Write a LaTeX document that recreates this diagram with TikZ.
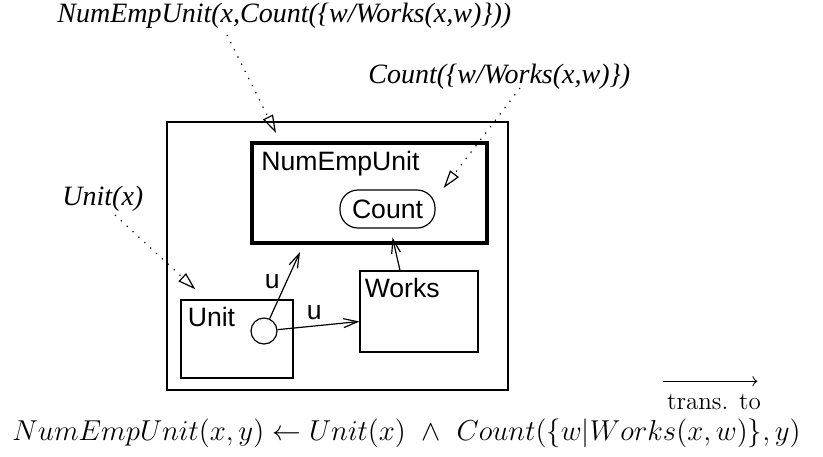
\documentclass[tikz,border=0pt]{standalone}
\usepackage{fontspec}
\newfontfamily\helv{Liberation Sans}
\newfontfamily\tims{Liberation Serif}
\usetikzlibrary{arrows.meta}
\tikzstyle{box} = [rectangle, draw, line width=0.6pt, inner sep=0pt]
\tikzstyle{thickbox} = [box, line width=2pt]
\tikzstyle{oval} = [box, rounded corners=9pt]
\tikzstyle{boxname} = [font=\helv\fontsize{13.3}{15}\selectfont, inner sep=0pt]
\tikzstyle{term} = [font=\tims\itshape\fontsize{14}{16}\selectfont, inner sep=0pt, anchor=base west]
\tikzstyle{line} = [draw, line width=0.6pt, -{Straight Barb[length=7pt,width=4.5pt]}]
\tikzstyle{refer} = [draw, line width=0.6pt, dash pattern=on 0.6pt off 3.4pt, -{Triangle[open,length=9pt,width=5.5pt,line width=0.6pt]}]

\begin{document}
\begin{tikzpicture}[x=0.5pt, y=-0.5pt]
	\useasboundingbox (0,0) rectangle (823,456);
	% Place nodes
	\node [box, minimum width=170.5pt, minimum height=134pt] (outer) at (337.5,256) {};
	\node [thickbox, minimum width=117.5pt, minimum height=50pt] (nbox) at (369.5,193) {};
	\node [boxname, anchor=base west] (nname) at ([xshift=5.5pt,yshift=-14.5pt]nbox.north west) {NumEmpUnit};
	\node [oval, boxname, minimum width=47.5pt, minimum height=19pt] (count) at (387.5,209) {Count};
	\node [box, minimum width=59pt, minimum height=40.5pt] (works) at (419,311.5) {};
	\node [boxname, anchor=base west] (wname) at ([xshift=2.5pt,yshift=-13.5pt]works.north west) {Works};
	\node [box, minimum width=56pt, minimum height=39pt] (unit) at (237,339) {};
	\node [boxname, anchor=base west] (uname) at ([xshift=3.5pt,yshift=-13.5pt]unit.north west) {Unit};
	\node [box, circle, minimum size=13pt] (circ) at (264,331) {};
	\coordinate (up) at (300,252);
	% terms
	\node [term] (ttop) at (57,22) {NumEmpUnit(x,Count(\{w/Works(x,w)\}))};
	\node [term] (tcount) at (368,83) {Count(\{w/Works(x,w)\})};
	\node [term] (tunit) at (62,205) {Unit(x)};
	% rule
	\node [anchor=base west, inner sep=0pt, font=\fontsize{15.6}{18}\selectfont] (rule) at (12,440)
		{$NumEmpUnit(x,y) \leftarrow Unit(x)\ \wedge\ Count(\{w|Works(x,w)\},y)$};
	\node [inner sep=0pt, anchor=base, font=\fontsize{12.5}{14}\selectfont] (trans) at (714,409) {trans. to};
	% Draw edges
	\path [line] (circ) -- node [boxname, pos=0.55, left=3pt] {u} (up);
	\path [line] (circ) -- node [boxname, pos=0.45, above=3pt] {u} ([yshift=-5pt]works.west);
	\path [line] ([xshift=-9.5pt]works.north) -- ([xshift=2.5pt,yshift=-4.5pt]count.south);
	\path [refer] ([xshift=85pt,yshift=-6.5pt]ttop.base west) -- ([xshift=-46.75pt,yshift=4pt]nbox.north);
	\path [refer] ([xshift=76pt,yshift=-2.5pt]tcount.base west) -- ([xshift=4pt,yshift=10.5pt]count.east);
	\path [refer] ([xshift=26.5pt,yshift=-5pt]tunit.base west) -- ([xshift=7.5pt,yshift=5pt]unit.north west);
	\draw [->] ([xshift=-2pt,yshift=6pt]trans.north west) -- ([xshift=-2pt,yshift=6pt]trans.north east);
\end{tikzpicture}
\end{document}
